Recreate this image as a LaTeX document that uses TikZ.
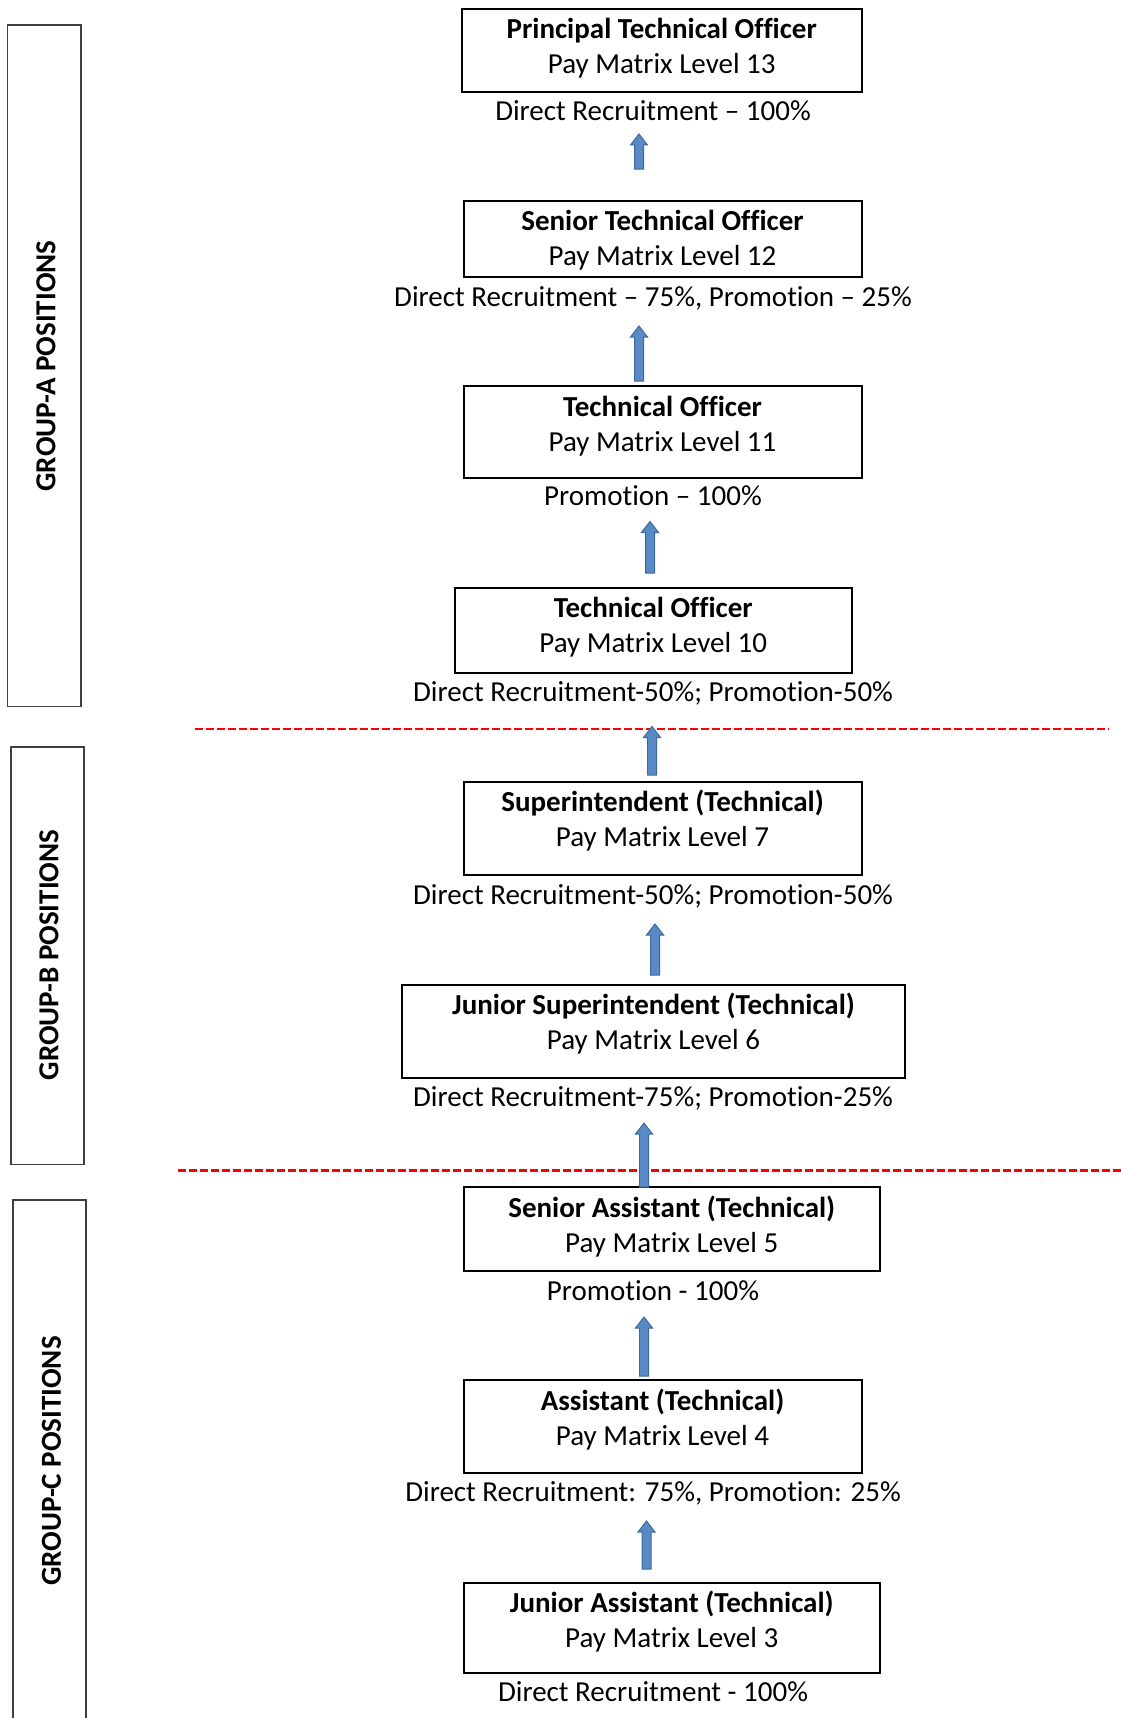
\documentclass[tikz,border=0pt]{standalone}
\usepackage{fontspec}
\setmainfont[Ligatures=NoCommon]{Carlito}
\usetikzlibrary{calc}
\definecolor{arrowfill}{HTML}{5A8AC6}
\definecolor{arrowline}{HTML}{3D6A9E}
\definecolor{sideline}{HTML}{404040}
\tikzset{
  posbox/.style={draw=black, line width=2pt, rectangle, inner sep=0pt},
  sidebox/.style={draw=sideline, line width=1.6pt},
  title/.style={anchor=base, font=\fontsize{29}{35}\selectfont\bfseries, inner sep=0pt},
  level/.style={anchor=base, font=\fontsize{29}{35}\selectfont, inner sep=0pt},
  ratio/.style={anchor=base, font=\fontsize{29}{35}\selectfont, inner sep=0pt},
  grouplabel/.style={rotate=90, font=\fontsize{29}{35}\selectfont\bfseries, inner sep=0pt},
  divider/.style={draw=red, line width=2.4pt, dash pattern=on 8pt off 3pt},
  blockarrow/.style={fill=arrowfill, draw=arrowline, line width=1pt, line join=miter}
}
% block arrow pointing up: #1 base coordinate, #2 tip coordinate
\newcommand\upblock[2]{%
  \path[blockarrow] ($(#1)+(-4.5,0)$) -- ($(#2)+(-4.5,11)$) -- ($(#2)+(-8.5,11)$)
    -- (#2) -- ($(#2)+(8.5,11)$) -- ($(#2)+(4.5,11)$) -- ($(#1)+(4.5,0)$) -- cycle;}
% post box: #1 name, #2 left, #3 top, #4 right, #5 bottom, #6 title, #7 level
\newcommand\postbox[7]{%
  \node[posbox, minimum width={#4-#2}, minimum height={#5-#3}] (#1) at ({(#2+#4)/2},{(#3+#5)/2}) {};
  \node[title] (#1t) at ($(#1.north)+(0,31)$) {#6};
  \node[level] (#1l) at ($(#1.north)+(0,66)$) {#7};}
\begin{document}
\begin{tikzpicture}[x=1pt,y=-1pt]
\useasboundingbox (0,0) rectangle (1121,1718);
\fill[white] (0,0) rectangle (1121,1718);

% group panels on the left
\draw[sidebox] (7.5,25) rectangle (81,706.5);
\node[grouplabel] (ga) at (46,366) {GROUP-A POSITIONS};
\draw[sidebox] (11,747) rectangle (84,1164.5);
\node[grouplabel] (gb) at (49,955) {GROUP-B POSITIONS};
\draw[sidebox] (13,1200) rectangle (86,1730);
\node[grouplabel] (gc) at (51.5,1461) {GROUP-C POSITIONS};

% group dividers
\coordinate (d1a) at (195,728.7);  \coordinate (d1b) at (1109,728.7);
\coordinate (d2a) at (177.5,1170.5); \coordinate (d2b) at (1121,1170.5);
\draw[divider] (d1a) -- (d1b);
\draw[divider] (d2a) -- (d2b);

% posts
\postbox{p13}{462}{9}{861.5}{92}{Principal Technical Officer}{Pay Matrix Level 13}
\node[ratio] (r13) at (653,121) {Direct Recruitment – 100\%};

\postbox{p12}{463.5}{200.5}{861.5}{277}{Senior Technical Officer}{Pay Matrix Level 12}
\node[ratio] (r12) at (653,306) {Direct Recruitment – 75\%, Promotion – 25\%};

\postbox{p11}{463.5}{386}{861.5}{478}{Technical Officer}{Pay Matrix Level 11}
\node[ratio] (r11) at (653,505) {Promotion – 100\%};

\postbox{p10}{455}{587.5}{851.5}{673}{Technical Officer}{Pay Matrix Level 10}
\node[ratio] (r10) at (653,701.5) {Direct Recruitment-50\%; Promotion-50\%};

\postbox{p7}{463.5}{781.5}{861.5}{874.5}{Superintendent (Technical)}{Pay Matrix Level 7}
\node[ratio] (r7) at (653,904) {Direct Recruitment-50\%; Promotion-50\%};

\postbox{p6}{402}{984.5}{905}{1077.5}{Junior Superintendent (Technical)}{Pay Matrix Level 6}
\node[ratio] (r6) at (653,1106) {Direct Recruitment-75\%; Promotion-25\%};

\postbox{p5}{463.5}{1187}{880}{1271}{Senior Assistant (Technical)}{Pay Matrix Level 5}
\node[ratio] (r5) at (653,1300) {Promotion - 100\%};

\postbox{p4}{463.5}{1380}{861.5}{1473}{Assistant (Technical)}{Pay Matrix Level 4}
\node[ratio] (r4) at (653,1501.5) {Direct Recruitment: 75\%, Promotion: 25\%};

\postbox{p3}{463.5}{1582.5}{880}{1673}{Junior Assistant (Technical)}{Pay Matrix Level 3}
\node[ratio] (r3) at (653,1701) {Direct Recruitment - 100\%};

% promotion arrows
\coordinate (a1t) at (639,134);   \coordinate (a1b) at (639,169);
\coordinate (a2t) at (639,326);   \coordinate (a2b) at (639,381);
\coordinate (a3t) at (650,521.5); \coordinate (a3b) at (650,573);
\coordinate (a4t) at (652,726.5); \coordinate (a4b) at (652,775);
\coordinate (a5t) at (655,924);   \coordinate (a5b) at (655,975);
\coordinate (a6t) at (644,1123);  \coordinate (a6b) at (644,1187);
\coordinate (a7t) at (644,1317);  \coordinate (a7b) at (644,1376);
\coordinate (a8t) at (646.5,1521);\coordinate (a8b) at (646.5,1569);
\upblock{a1b}{a1t}
\upblock{a2b}{a2t}
\upblock{a3b}{a3t}
\upblock{a4b}{a4t}
\upblock{a5b}{a5t}
\upblock{a6b}{a6t}
\upblock{a7b}{a7t}
\upblock{a8b}{a8t}
\end{tikzpicture}
\end{document}
